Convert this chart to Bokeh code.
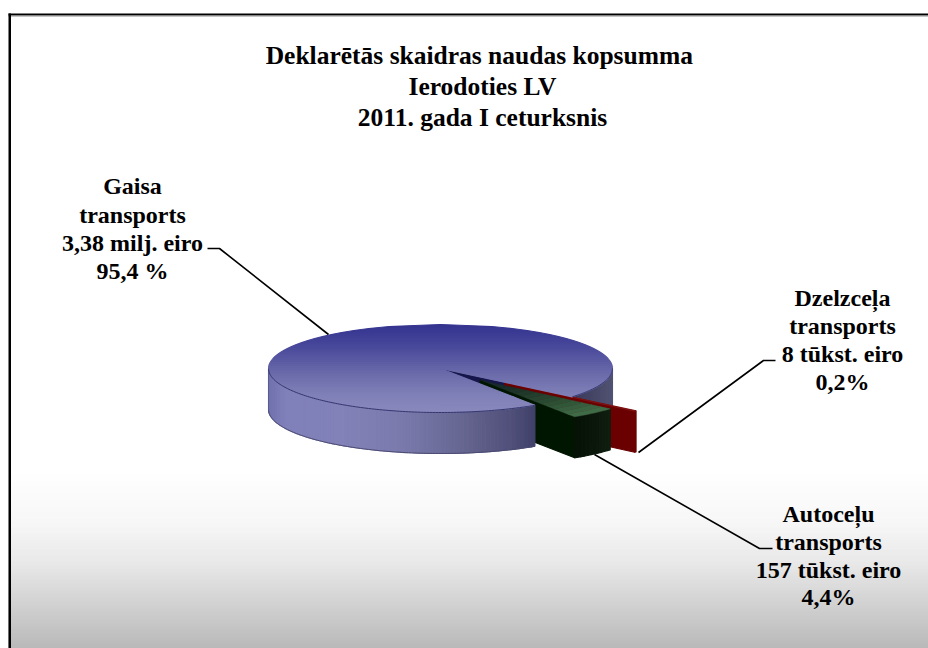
import numpy as np
from bokeh.plotting import figure
from bokeh.models import Range1d
from bokeh.core.properties import value
from bokeh.embed import file_html
from bokeh.resources import INLINE

# ---- data ----
segments = ["Gaisa transports", "Dzelzceļa transports", "Autoceļu transports"]
shares = [95.4, 0.2, 4.4]
title_lines = ["Deklarētās skaidras naudas  kopsumma", "Ierodoties LV", "2011. gada I ceturksnis"]
gaisa_label = ["Gaisa", "transports", "3,38 milj. eiro", "95,4 %"]
dzelz_label = ["Dzelzceļa", "transports", "8 tūkst. eiro", "0,2%"]
auto_label = ["Autoceļu", "transports", "157 tūkst. eiro", "4,4%"]

# ---- layout ----
W, H = 928, 648
OX, OY = 0, 0
FRAME_L = 8
CX, CY, RX, RY, DEPTH = 440.0, 368.0, 172.0, 44.0, 41.0
START = 56.7
EXPLODE = [0.0, 0.49, 0.35]
FONT = "Liberation Serif"

p = figure(width=W, height=H, output_backend="svg", toolbar_location=None,
           x_range=Range1d(OX, OX + W), y_range=Range1d(OY + H, OY),
           min_border=0, outline_line_color=None, background_fill_color="white",
           border_fill_color="white")
p.axis.visible = False
p.grid.visible = False


def hexc(c):
    return "#%02x%02x%02x" % tuple(int(round(v)) for v in c)


def ramp(stops):
    pos = [s[0] for s in stops]
    rgb = [[int(s[1][i:i + 2], 16) for i in (1, 3, 5)] for s in stops]

    def f(t):
        return hexc([np.interp(t, pos, [c[k] for c in rgb]) for k in range(3)])
    return f


def pt(theta, r=1.0, ox=0.0, oy=0.0, dy=0.0):
    a = np.radians(theta)
    return CX + ox + r * RX * np.cos(a), CY + oy + r * RY * np.sin(a) + dy


def draw(xs, ys, colors):
    p.patches(xs, ys, fill_color=colors, line_color=colors, line_width=1.1)


# angular extents derived from the shares
edges = [START]
for s in shares:
    edges.append(edges[-1] + 3.6 * s)
b0, b1 = edges[0], edges[1]
r0, r1 = edges[1], edges[2]
g0, g1 = edges[2], edges[3]


def offset(idx, t0, t1):
    m = np.radians((t0 + t1) / 2)
    return EXPLODE[idx] * RX * np.cos(m), EXPLODE[idx] * RY * np.sin(m)


# background
bg = ramp([(470, "#ffffff"), (520, "#f7f7f7"), (560, "#e9e9e9"), (600, "#d3d3d3"), (648, "#b8b8b8")])
ys_bg = np.arange(468, H + 1, 2.0)
p.quad(left=FRAME_L, right=OX + W, top=ys_bg[:-1], bottom=ys_bg[:-1] + 2.6,
       fill_color=[bg(y) for y in ys_bg[:-1]], line_color=None)

# frame
p.quad(left=FRAME_L, right=OX + W, top=13, bottom=15, fill_color="#000000", line_color=None)
p.quad(left=FRAME_L, right=OX + W, top=15, bottom=16, fill_color="#8c8c8c", line_color=None)
p.quad(left=FRAME_L, right=FRAME_L + 2.5, top=13, bottom=OY + H, fill_color="#000000", line_color=None)


def arc_side(t0, t1, ox, oy, color_of_x, step=1.5):
    xs, ys, cols = [], [], []
    ts = np.arange(t0, t1 + step * 0.5, step)
    ts[-1] = t1
    for a, b in zip(ts[:-1], ts[1:]):
        x0, y0 = pt(a, 1, ox, oy)
        x1, y1 = pt(b, 1, ox, oy)
        xs.append([x0, x1, x1, x0])
        ys.append([y0, y1, y1 + DEPTH, y0 + DEPTH])
        cols.append(color_of_x((x0 + x1) / 2))
    draw(xs, ys, cols)


def radial_side(theta, ox, oy, color):
    ax, ay = CX + ox, CY + oy
    x1, y1 = pt(theta, 1, ox, oy)
    draw([[ax, x1, x1, ax]], [[ay, y1, y1 + DEPTH, ay + DEPTH]], [color])


blue_side = ramp([(268, "#7172ae"), (285, "#8080ba"), (340, "#8282b8"), (400, "#7a7aad"),
                  (460, "#676792"), (510, "#50507a"), (535, "#3f4069"),
                  (575, "#3a3b5c"), (612, "#525372")])
green_side = ramp([(535, "#001600"), (572, "#001600"), (576, "#071207"), (595, "#0c180c"), (612, "#102010")])

# blue: far-right wall and the wall facing the gap
radial_side(b1 - 360, 0, 0, "#16164a")
arc_side(0, b1 - 360, 0, 0, blue_side)

# red slice
rox, roy = offset(1, r0, r1)
rt0, rt1 = r0 - 360, r1 - 360
radial_side(rt1, rox, roy, "#6a0000")
arc_side(rt0, rt1, rox, roy, lambda x: "#6a0000", step=0.7)
rax, ray = CX + rox, CY + roy
rx0, ry0 = pt(rt0, 1, rox, roy)
rx1, ry1 = pt(rt1, 1, rox, roy)
draw([[rax, rx0, rx1]], [[ray, ry0, ry1]], ["#7d1010"])

# green slice walls
gox, goy = offset(2, g0, g1)
gt0, gt1 = g0 - 360, g1 - 360
radial_side(gt1, gox, goy, "#001600")
arc_side(gt0, gt1, gox, goy, green_side)

# blue front wall
arc_side(b0, 180, 0, 0, blue_side)
fx = [pt(t)[0] for t in np.arange(b0, 180.5, 1.0)]
fy = [pt(t)[1] for t in np.arange(b0, 180.5, 1.0)]
p.line([fx[-1]] * 2, [fy[-1], fy[-1] + DEPTH], line_color="#5a5a90", line_width=1)
p.line(fx, [y + DEPTH for y in fy], line_color="#4a4a70", line_width=1)

# blue top face: horizontal bands, gap left open
top_col = ramp([(324, "#33338f"), (345, "#46469a"), (375, "#6c6cab"), (395, "#8080b8"), (412, "#8888bd")])
x40, y40 = pt(b1 - 360)
x56, y56 = pt(b0)
k40 = (x40 - CX) / (y40 - CY)
k56 = (x56 - CX) / (y56 - CY)


def half(y):
    return RX * np.sqrt(max(0.0, 1 - ((y - CY) / RY) ** 2))


band_y = sorted(set(list(np.arange(CY - RY, CY + RY, 2.0)) + [CY, y40, y56, CY + RY]))
xs, ys, cols = [], [], []
for a, b in zip(band_y[:-1], band_y[1:]):
    c = top_col((a + b) / 2)
    la, lb = CX - half(a), CX - half(b)
    ra, rb = CX + half(a), CX + half(b)
    if b <= CY or a >= y56:
        xs.append([la, ra, rb, lb]); ys.append([a, a, b, b]); cols.append(c)
    else:
        ma, mb = CX + (a - CY) * k56, CX + (b - CY) * k56
        xs.append([la, ma, mb, lb]); ys.append([a, a, b, b]); cols.append(c)
        if b <= y40 + 1e-6:
            na, nb = CX + (a - CY) * k40, CX + (b - CY) * k40
            xs.append([na, ra, rb, nb]); ys.append([a, a, b, b]); cols.append(c)
draw(xs, ys, cols)

# darker rim on the front of the top face
p.line(fx, fy, line_color="#35356f", line_width=1)
rim = np.arange(0, b1 - 360 + 0.5, 1.0)
p.line([pt(t)[0] for t in rim], [pt(t)[1] for t in rim], line_color="#35356f", line_width=1)

# green top face: concentric bands
gr = ramp([(0.0, "#16222c"), (0.35, "#1c3428"), (0.7, "#2e5236"), (1.0, "#426e49")])
rs = np.linspace(0, 1, 15)
ths = np.linspace(gt0, gt1, 10)
xs, ys, cols = [], [], []
for a, b in zip(rs[:-1], rs[1:]):
    oa = [pt(t, b, gox, goy) for t in ths]
    ia = [pt(t, a, gox, goy) for t in ths[::-1]]
    xs.append([q[0] for q in oa + ia]); ys.append([q[1] for q in oa + ia])
    cols.append(gr((a + b) / 2))
p.patches(xs, ys, fill_color=cols, line_color=cols, line_width=0.4)

# leader lines
for lx, ly in [([207, 219, 328], [248, 248, 334]),
               ([638, 763, 775], [452, 360, 360]),
               ([594, 759, 772], [454, 548, 548])]:
    p.line(lx, ly, line_color="#000000", line_width=1.6)


def txt(lines, x, baselines, size):
    p.text([x] * len(lines), baselines, text=lines, text_font=value(FONT),
           text_font_style="bold", text_font_size=size, text_align="center",
           text_baseline="alphabetic", text_color="#000000")


txt(title_lines, 482, [55, 86, 117], "25.5px")
txt(gaisa_label, 132, [185, 214, 242, 270], "24px")
txt(dzelz_label, 842, [297, 325, 353, 381], "24px")
txt(auto_label, 828, [513, 541, 569, 596], "24px")

open("out.html", "w").write(file_html(p, INLINE))
